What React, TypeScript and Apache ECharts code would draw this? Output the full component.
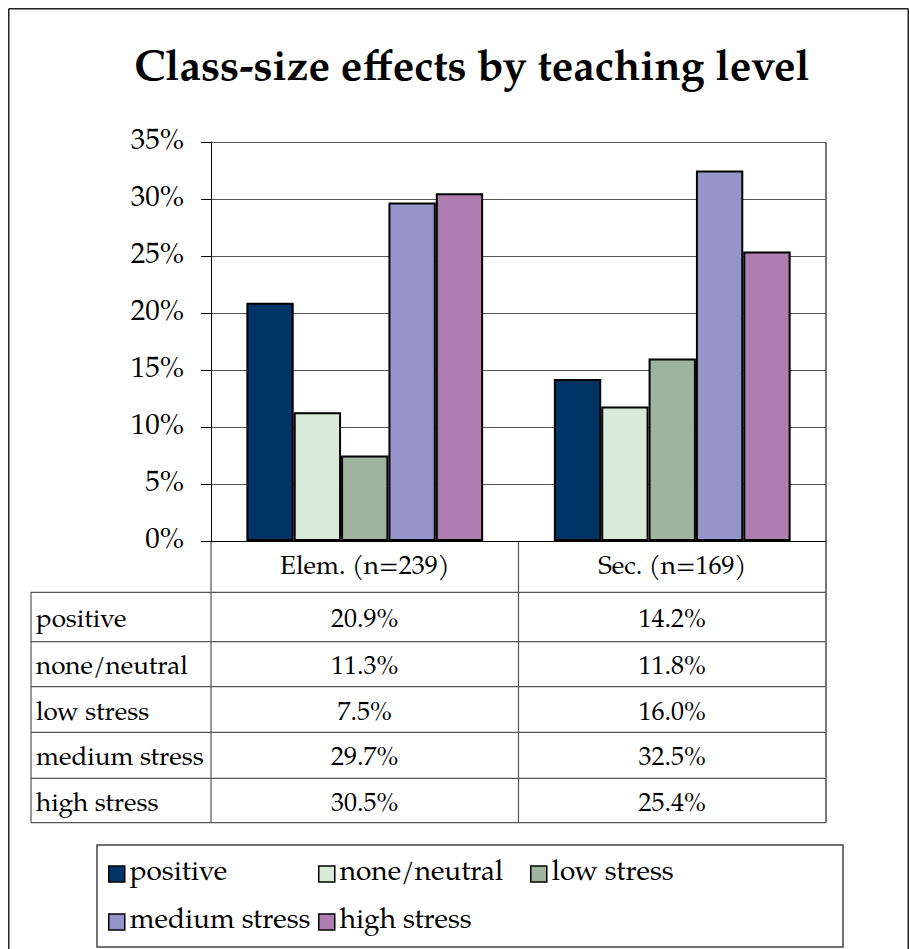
import React, { useEffect, useRef } from "react";
import * as echarts from "echarts";

const TITLE = "Class-size effects by teaching level";
const categories = ["Elem. (n=239)", "Sec. (n=169)"];
const seriesNames = ["positive", "none/neutral", "low stress", "medium stress", "high stress"];
const positive = [20.9, 14.2];
const noneNeutral = [11.3, 11.8];
const lowStress = [7.5, 16.0];
const mediumStress = [29.7, 32.5];
const highStress = [30.5, 25.4];
const yTicks = [0, 5, 10, 15, 20, 25, 30, 35];

const seriesValues = [positive, noneNeutral, lowStress, mediumStress, highStress];
const colors = ["#003366", "#D9EAD9", "#9FB49F", "#9595C9", "#B07DB1"];
const FONT = "'Palatino Linotype', 'Book Antiqua', Palatino, 'URW Palladio L', 'TeX Gyre Pagella', 'Liberation Serif', serif";

const W = 901;
const H = 941;
const GRID = { left: 203, top: 134, width: 615, height: 399 };
// table geometry (div coords)
const TABLE_LEFT = 23;
const ROW_LINES = [584.3, 633.7, 678.7, 724.3, 770.3, 814.7];
const LINE_COLOR = "#555";

// legend layout (div coords)
const LEGEND_BOX = { x: 89, y: 837, w: 746, h: 102 };
const LEGEND_POS = [
  { left: 100, top: 852 },
  { left: 310, top: 852 },
  { left: 522, top: 852 },
  { left: 100, top: 900 },
  { left: 310, top: 900 },
];

export default function App() {
  const ref = useRef<HTMLDivElement>(null);
  useEffect(() => {
    if (!ref.current) return;
    const chart = echarts.init(ref.current, null, { renderer: "svg" });
    const base: any = {
      animation: false,
      backgroundColor: "#fff",
      title: {
        text: TITLE,
        left: 459,
        top: 35,
        textAlign: "center",
        textStyle: { fontFamily: FONT, fontWeight: "bold", fontSize: 43, color: "#000" },
      },
      grid: GRID,
      xAxis: {
        type: "category",
        data: categories,
        axisLine: { show: true, lineStyle: { color: "#000", width: 1 } },
        axisTick: { show: false },
        axisLabel: { show: false },
        splitLine: { show: false },
      },
      yAxis: {
        type: "value",
        min: 0,
        max: 35,
        interval: 5,
        axisLine: { show: true, lineStyle: { color: "#000", width: 1 } },
        axisTick: { show: true, length: 10, inside: false, lineStyle: { color: "#000" } },
        axisLabel: {
          formatter: (v: number) => (yTicks.includes(v) ? v + "%" : ""),
          fontFamily: FONT,
          fontSize: 29,
          color: "#000",
          margin: 27,
        },
        splitLine: { show: true, lineStyle: { color: "#555", width: 1 } },
      },
      legend: seriesNames.map((name, i) => ({
        show: true,
        data: [name],
        left: LEGEND_POS[i].left,
        top: LEGEND_POS[i].top,
        orient: "horizontal",
        icon: "rect",
        itemWidth: 16,
        itemHeight: 16,
        itemGap: 0,
        padding: 0,
        textStyle: { fontFamily: FONT, fontSize: 28, color: "#000" },
        itemStyle: { borderColor: "#000", borderWidth: 1.5 },
      })),
      series: seriesNames.map((name, i) => ({
        type: "bar",
        name,
        data: seriesValues[i],
        barGap: "0%",
        barCategoryGap: "23%",
        itemStyle: { color: colors[i], borderColor: "#000", borderWidth: 2 },
      })),
    };
    chart.setOption(base);

    const x0 = GRID.left;
    const xRight = GRID.left + GRID.width;
    const yAxisBottom = GRID.top + GRID.height;
    const colCenters = categories.map((_, i) => chart.convertToPixel({ xAxisIndex: 0 }, i) as number);
    const colDivider = (colCenters[0] + colCenters[1]) / 2;
    const tableBottom = ROW_LINES[ROW_LINES.length - 1];

    const lineEl = (x1: number, y1: number, x2: number, y2: number, color = LINE_COLOR, w = 1.2) => ({
      type: "line",
      silent: true,
      shape: { x1, y1, x2, y2 },
      style: { stroke: color, lineWidth: w },
    });
    const textEl = (text: string, x: number, y: number, align: string, size: number) => ({
      type: "text",
      silent: true,
      x,
      y,
      style: { text, x: 0, y: 0, fill: "#000", font: `${size}px ${FONT}`, align, verticalAlign: "middle" },
    });

    const els: any[] = [];
    // outer border (bottom edge falls outside the visible area)
    els.push(lineEl(0.75, 0.75, W - 0.75, 0.75, "#222", 1.5));
    els.push(lineEl(0.75, 0.75, 0.75, H, "#222", 1.5));
    els.push(lineEl(W - 0.75, 0.75, W - 0.75, H, "#222", 1.5));
    // table lines
    ROW_LINES.forEach((y) => els.push(lineEl(TABLE_LEFT, y, xRight, y)));
    els.push(lineEl(TABLE_LEFT, ROW_LINES[0], TABLE_LEFT, tableBottom));
    els.push(lineEl(x0, yAxisBottom, x0, tableBottom));
    els.push(lineEl(colDivider, yAxisBottom, colDivider, tableBottom));
    els.push(lineEl(xRight, GRID.top, xRight, tableBottom, "#777", 2));
    // header labels
    categories.forEach((c, i) => els.push(textEl(c, colCenters[i], (yAxisBottom + ROW_LINES[0]) / 2 + 1, "center", 26)));
    // rows
    seriesNames.forEach((name, r) => {
      const yc = (ROW_LINES[r] + ROW_LINES[r + 1]) / 2 + 4;
      els.push(textEl(name, TABLE_LEFT + 5, yc, "left", 26));
      seriesValues[r].forEach((v, c) => els.push(textEl(v.toFixed(1) + "%", colCenters[c], yc, "center", 26)));
    });
    // legend box
    els.push({
      type: "rect",
      silent: true,
      shape: { x: LEGEND_BOX.x, y: LEGEND_BOX.y, width: LEGEND_BOX.w, height: LEGEND_BOX.h },
      style: { fill: "none", stroke: "#444", lineWidth: 1.5 },
      z: -1,
    });
    chart.setOption({ graphic: { elements: els } });

    return () => chart.dispose();
  }, []);
  return <div ref={ref} style={{ position: "absolute", left: 8, top: 8, width: W, height: H }} />;
}
